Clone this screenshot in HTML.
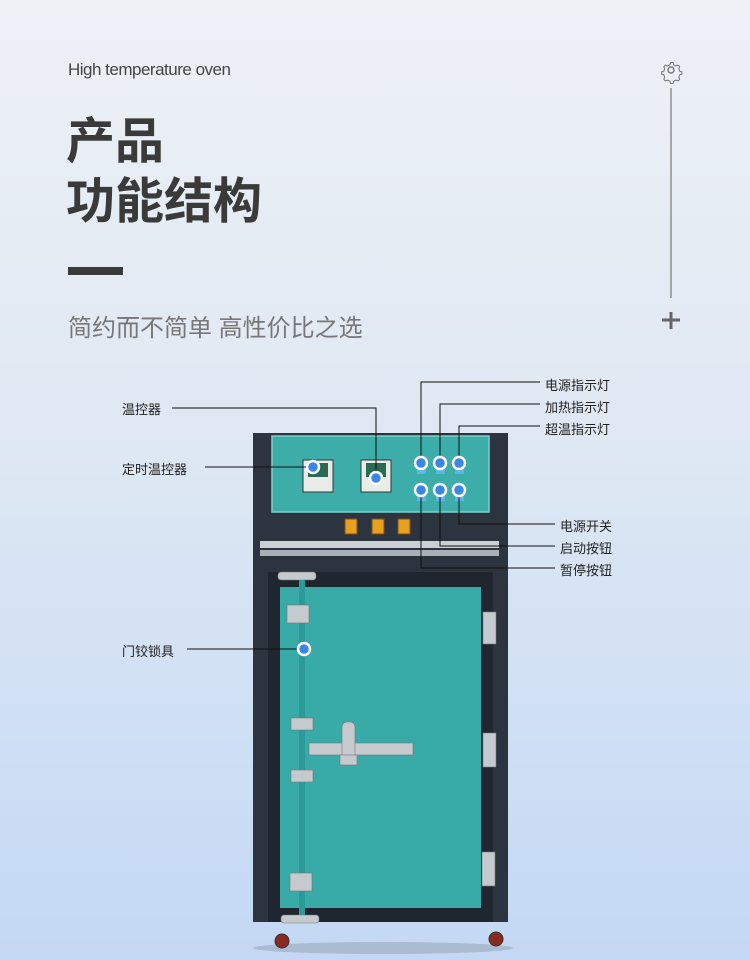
<!DOCTYPE html>
<html><head><meta charset="utf-8"><style>
body{margin:0;width:750px;height:960px;overflow:hidden;background:linear-gradient(#eef1f6,#dfe8f3 45%,#c3d8f4);font-family:"Liberation Sans","Noto Sans CJK SC",sans-serif;position:relative}
.a{position:absolute}
.l{position:absolute;font-size:13px;color:#222;white-space:nowrap}
</style></head><body>
<div class="a" style="left:68px;top:60px;font-size:17px;color:#444;letter-spacing:-0.5px">High temperature oven</div>
<div class="a" style="left:66px;top:112px;font-size:49px;font-weight:bold;color:#3a3a3a;line-height:60px">产品<br>功能结构</div>
<div class="a" style="left:68px;top:267px;width:55px;height:8px;background:#3a3a3a"></div>
<div class="a" style="left:68px;top:308px;font-size:24px;color:#777">简约而不简单 高性价比之选</div>
<svg class="a" style="left:0;top:0" width="750" height="960">
<g stroke="#777" fill="none" stroke-width="1.4">
<circle cx="671" cy="70" r="3"/>
<g transform="translate(671 70) scale(0.75) translate(-670 -70)">
<path d="M670 60 l2.5 0 1 3 3 1.5 3-1 2 2-1 3 1 3 3 1 0 3-3 1-1 3 1 3-2 2-3-1-3 1.5-1 3h-3l-1-3-3-1.5-3 1-2-2 1-3-1-3-3-1v-3l3-1 1-3-1-3 2-2 3 1 3-1.5 1-3z"/></g>
<line x1="671" y1="88" x2="671" y2="298" stroke-width="1.2"/>
<line x1="671" y1="312" x2="671" y2="329" stroke-width="3" stroke="#666"/>
<line x1="662" y1="320" x2="680" y2="320" stroke-width="3" stroke="#666"/>
</g>
<ellipse cx="383" cy="948" rx="130" ry="6" fill="#9aa8bb" opacity=".6"/>
<rect x="253" y="433" width="255" height="489" fill="#2c3440"/>
<rect x="272" y="436" width="217" height="76" fill="#3cada9" stroke="#7cd0cc" stroke-width="1.5"/>
<rect x="303" y="460" width="30" height="32" fill="#e8ece8" stroke="#333"/>
<rect x="361" y="460" width="30" height="32" fill="#e8ece8" stroke="#333"/>
<rect x="308" y="463" width="20" height="14" fill="#2a6a55"/><rect x="366" y="463" width="20" height="14" fill="#2a6a55"/>
<g fill="#5bb6e4"><rect x="417" y="468" width="9" height="6"/><rect x="436" y="468" width="9" height="6"/><rect x="455" y="468" width="9" height="6"/><rect x="417" y="495" width="9" height="6"/><rect x="436" y="495" width="9" height="6"/><rect x="455" y="495" width="9" height="6"/></g>
<g fill="#e8a020" stroke="#7a5010"><rect x="345" y="519" width="12" height="15"/><rect x="372" y="519" width="12" height="15"/><rect x="398" y="519" width="12" height="15"/></g>
<rect x="260" y="541" width="239" height="7" fill="#c9cfd3"/><rect x="260" y="550" width="239" height="6" fill="#a9b0b5"/>
<rect x="268" y="572" width="225" height="350" fill="#1f2630"/>
<rect x="280" y="587" width="201" height="321" fill="#38aaa8"/>
<rect x="299" y="580" width="6" height="335" fill="#2b9a98"/>
<g fill="#c4cace" stroke="#777" stroke-width=".6">
<rect x="278" y="572" width="38" height="8" rx="3"/><rect x="287" y="605" width="22" height="18"/>
<rect x="291" y="718" width="22" height="12"/><rect x="291" y="770" width="22" height="12"/>
<rect x="290" y="873" width="22" height="18"/><rect x="281" y="915" width="38" height="8" rx="3"/>
<rect x="483" y="612" width="13" height="32"/><rect x="483" y="733" width="13" height="34"/><rect x="482" y="852" width="13" height="34"/>
<rect x="309" y="743" width="104" height="12"/><rect x="342" y="722" width="13" height="40" rx="5"/><rect x="340" y="755" width="17" height="10"/>
</g>
<g fill="#8a2a20" stroke="#333"><circle cx="282" cy="941" r="7"/><circle cx="496" cy="939" r="7"/></g>
<g stroke="#111" stroke-width="1" fill="none">
<polyline points="540,382 421,382 421,463"/>
<polyline points="540,404 440,404 440,463"/>
<polyline points="540,426 459,426 459,463"/>
<polyline points="555,524 459,524 459,490"/>
<polyline points="555,546 440,546 440,490"/>
<polyline points="555,568 421,568 421,490"/>
<polyline points="172,408 376,408 376,478"/>
<line x1="205" y1="467" x2="313" y2="467"/>
<line x1="187" y1="649" x2="303" y2="649"/>
</g>
<g fill="#3a86e8" stroke="#fff" stroke-width="2.5">
<circle cx="421" cy="463" r="6"/><circle cx="440" cy="463" r="6"/><circle cx="459" cy="463" r="6"/>
<circle cx="421" cy="490" r="6"/><circle cx="440" cy="490" r="6"/><circle cx="459" cy="490" r="6"/>
<circle cx="313" cy="467" r="6"/><circle cx="376" cy="478" r="6"/><circle cx="304" cy="649" r="6"/>
</g>
</svg>
<div class="l" style="left:545px;top:375px">电源指示灯</div>
<div class="l" style="left:545px;top:397px">加热指示灯</div>
<div class="l" style="left:545px;top:419px">超温指示灯</div>
<div class="l" style="left:560px;top:516px">电源开关</div>
<div class="l" style="left:560px;top:538px">启动按钮</div>
<div class="l" style="left:560px;top:560px">暂停按钮</div>
<div class="l" style="left:122px;top:399px">温控器</div>
<div class="l" style="left:122px;top:459px">定时温控器</div>
<div class="l" style="left:122px;top:641px">门铰锁具</div>
</body></html>
